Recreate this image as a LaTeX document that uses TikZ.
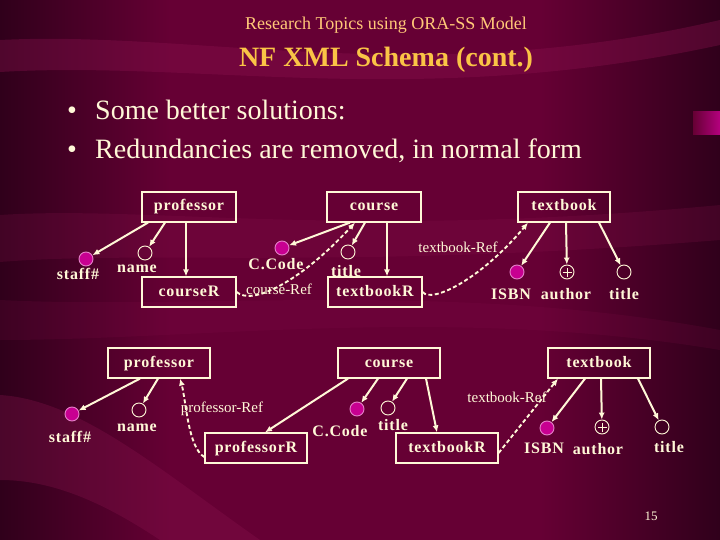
\documentclass[tikz,border=0pt]{standalone}
\usepackage{fontspec}
\setmainfont{Liberation Serif}
\newfontfamily\boxfont[LetterSpace=5]{Liberation Serif}
\usetikzlibrary{arrows.meta}
\definecolor{wine}{RGB}{102,0,52}
\definecolor{winedark}{RGB}{48,0,27}
\definecolor{winelight}{RGB}{140,20,80}
\definecolor{cream}{RGB}{255,248,215}
\definecolor{gold}{RGB}{250,196,70}
\definecolor{peach}{RGB}{255,200,120}
\definecolor{keypink}{RGB}{200,0,145}

\begin{document}
\begin{tikzpicture}[x=1pt,y=-1pt,>={Latex[length=7pt,width=6pt]},
  box/.style={draw=cream,line width=1.2pt,text=cream,font=\boxfont\fontsize{16}{18}\selectfont\bfseries,
    minimum height=30pt,inner sep=0pt,text height=11pt,text depth=3pt},
  attr/.style={circle,draw=cream,line width=0.9pt,minimum size=14pt,inner sep=0pt},
  keyattr/.style={attr,fill=keypink,draw=keypink!50!white},
  multattr/.style={attr,path picture={
      \draw[cream,line width=0.9pt] ([xshift=-4.5pt]path picture bounding box.center) -- ([xshift=4.5pt]path picture bounding box.center)
      ([yshift=-4.5pt]path picture bounding box.center) -- ([yshift=4.5pt]path picture bounding box.center);}},
  lbl/.style={text=cream,font=\boxfont\fontsize{16}{18}\selectfont\bfseries,inner sep=0pt},
  reflbl/.style={text=cream,font=\fontsize{15}{17}\selectfont,inner sep=0pt},
  arr/.style={->,cream,line width=2pt},
  refarr/.style={->,cream,line width=1.9pt,dash pattern=on 4pt off 2.5pt}]
\useasboundingbox (0,0) rectangle (720,540);
\fill[wine] (0,0) rectangle (720,540);
\shade[left color=winedark,right color=wine] (0,0) rectangle (170,540);
\shade[left color=wine,right color=winedark] (540,0) rectangle (720,540);
\fill[winelight,opacity=0.35] (0,40) .. controls (200,30) and (420,90) .. (720,20) -- (720,45) .. controls (420,110) and (200,60) .. (0,72) -- cycle;
\fill[winelight,opacity=0.2] (0,215) .. controls (150,205) and (350,240) .. (720,205) -- (720,240) .. controls (350,270) and (150,250) .. (0,262) -- cycle;
\fill[winelight,opacity=0.3] (0,395) .. controls (80,400) and (160,470) .. (260,540) -- (160,540) .. controls (100,500) and (50,480) .. (0,480) -- cycle;
\fill[winelight,opacity=0.15] (0,300) .. controls (200,310) and (450,280) .. (720,330) -- (720,350) .. controls (450,305) and (200,340) .. (0,340) -- cycle;
\shade[left color=wine,right color=keypink!80!wine] (693,112) rectangle (720,135);

\node[text=peach,font=\fontsize{18}{20}\selectfont] (sup) at (386,25) {Research Topics using ORA-SS Model};
\node[text=gold,font=\fontsize{28}{30}\selectfont\bfseries] (ttl) at (386,60) {NF XML Schema (cont.)};
\node[text=cream,font=\fontsize{28}{30}\selectfont,anchor=base,inner sep=0pt] (d1) at (72,120) {\textbullet};
\node[text=cream,font=\fontsize{28}{30}\selectfont,anchor=base,inner sep=0pt] (d2) at (72,159) {\textbullet};
\node[text=cream,font=\fontsize{28}{30}\selectfont,anchor=base west,inner sep=0pt] (b1) at (95,120) {Some better solutions:};
\node[text=cream,font=\fontsize{28}{30}\selectfont,anchor=base west,inner sep=0pt] (b2) at (95,159) {Redundancies are removed, in normal form};

% first schema
\node[box,minimum width=94pt] (p1) at (189,207) {professor};
\node[box,minimum width=94pt] (c1) at (374,207) {course};
\node[box,minimum width=92pt] (t1) at (564,207) {textbook};
\node[box,minimum width=94pt] (cr1) at (189,292) {courseR};
\node[box,minimum width=94pt] (tr1) at (375,292) {textbookR};

\node[keyattr] (s1) at (86,259) {};
\node[attr] (n1) at (145,253) {};
\node[keyattr] (cc1) at (282,248) {};
\node[attr] (ti1) at (348,252) {};
\node[keyattr] (is1) at (517,272) {};
\node[multattr] (au1) at (567,272) {};
\node[attr] (tt1) at (624,272) {};

\node[lbl] (s1l) at (78,274) {staff\#};
\node[lbl] (n1l) at (137,269) {name};
\node[lbl] (cc1l) at (276,264) {C.Code};
\node[lbl] (ti1l) at (346,271) {title};
\node[lbl] (is1l) at (511,294) {ISBN};
\node[lbl] (au1l) at (566,294) {author};
\node[lbl] (tt1l) at (624,294) {title};
\node[reflbl] (cref1) at (279,289) {course-Ref};
\node[reflbl] (tref1) at (458,247) {textbook-Ref};

\draw[arr] ([xshift=-41pt]p1.south) -- (s1);
\draw[arr] ([xshift=-24pt]p1.south) -- (n1);
\draw[arr] ([xshift=-3pt]p1.south) -- ([xshift=-3pt]cr1.north);
\draw[arr] ([xshift=-24pt]c1.south) -- (cc1);
\draw[arr] ([xshift=-9pt]c1.south) -- (ti1);
\draw[arr] ([xshift=13pt]c1.south) -- ([xshift=12pt]tr1.north);
\draw[arr] ([xshift=-14pt]t1.south) -- (is1);
\draw[arr] ([xshift=2pt]t1.south) -- (au1);
\draw[arr] ([xshift=35pt]t1.south) -- (tt1);
\draw[refarr] (cr1.east) .. controls (252,306) and (300,282) .. ([xshift=-19pt]c1.south);
\draw[refarr] (tr1.east) .. controls (432,304) and (482,278) .. ([xshift=-36pt]t1.south);

% second schema
\node[box,minimum width=102pt] (p2) at (159,363) {professor};
\node[box,minimum width=102pt] (c2) at (389,363) {course};
\node[box,minimum width=102pt] (t2) at (599,363) {textbook};
\node[box,minimum width=102pt] (pr2) at (256,448) {professorR};
\node[box,minimum width=102pt] (tr2) at (447,448) {textbookR};

\node[keyattr] (s2) at (72,414) {};
\node[attr] (n2) at (139,410) {};
\node[keyattr] (cc2) at (357,409) {};
\node[attr] (ti2) at (388,408) {};
\node[keyattr] (is2) at (547,428) {};
\node[multattr] (au2) at (602,427) {};
\node[attr] (tt2) at (662,427) {};

\node[lbl] (s2l) at (70,437) {staff\#};
\node[lbl] (n2l) at (137,428) {name};
\node[lbl] (cc2l) at (340,431) {C.Code};
\node[lbl] (ti2l) at (393,425) {title};
\node[lbl] (is2l) at (544,448) {ISBN};
\node[lbl] (au2l) at (598,449) {author};
\node[lbl] (tt2l) at (669,447) {title};
\node[reflbl] (pref2) at (222,409) {professor-Ref};
\node[reflbl] (tref2) at (507,397) {textbook-Ref};

\draw[arr] ([xshift=-19pt]p2.south) -- (s2);
\draw[arr] ([xshift=-1pt]p2.south) -- (n2);
\draw[arr] ([xshift=-41pt]c2.south) -- ([xshift=9pt]pr2.north);
\draw[arr] ([xshift=-11pt]c2.south) -- (cc2);
\draw[arr] ([xshift=18pt]c2.south) -- (ti2);
\draw[arr] ([xshift=37pt]c2.south) -- ([xshift=-10pt]tr2.north);
\draw[arr] ([xshift=-14pt]t2.south) -- (is2);
\draw[arr] ([xshift=2pt]t2.south) -- (au2);
\draw[arr] ([xshift=39pt]t2.south) -- (tt2);
\draw[refarr] ([yshift=-9pt]pr2.west) .. controls (188,448) and (186,400) .. ([xshift=21pt]p2.south);
\draw[refarr] ([yshift=-5pt]tr2.east) -- ([xshift=-41pt]t2.south);

\node[text=cream,font=\fontsize{13}{15}\selectfont] (pg) at (651,516) {15};
\end{tikzpicture}
\end{document}
